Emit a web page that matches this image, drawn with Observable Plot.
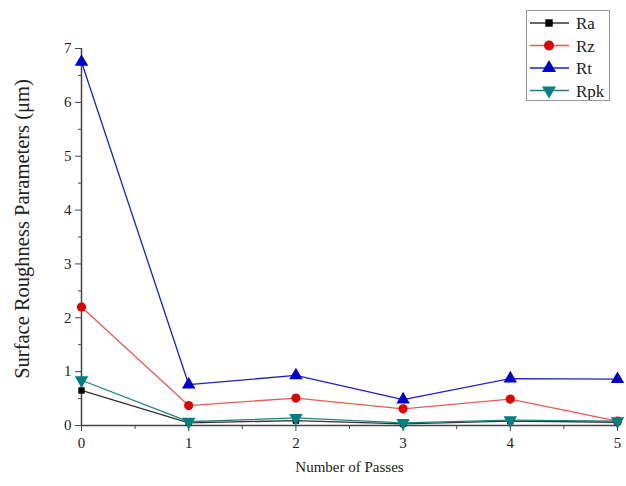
<!DOCTYPE html>
<html><head><meta charset="utf-8">
<script src="https://cdn.jsdelivr.net/npm/d3@7"></script>
<script src="https://cdn.jsdelivr.net/npm/@observablehq/plot@0.6"></script>
<style>
body{margin:0;background:#fff;font-family:"Liberation Serif","DejaVu Serif",serif;}
#wrap{position:relative;width:626px;height:486px;}
#legend{position:absolute;left:526px;top:10px;width:84px;height:91px;border:1px solid #999;background:#fff;box-sizing:border-box;}
</style>
</head><body>
<div id="wrap"><div id="chart"></div><div id="legend"></div></div>
<script>
const passes = [0, 1, 2, 3, 4, 5];
const Ra  = [0.65, 0.05, 0.09, 0.03, 0.08, 0.06];
const Rz  = [2.2, 0.37, 0.51, 0.31, 0.49, 0.08];
const Rt  = [6.75, 0.76, 0.93, 0.48, 0.87, 0.86];
const Rpk = [0.84, 0.07, 0.14, 0.05, 0.10, 0.08];
const seriesNames = ["Ra", "Rz", "Rt", "Rpk"];
const seriesValues = [Ra, Rz, Rt, Rpk];
const lineColors = ["#333333", "#e85a5a", "#2020c8", "#208080"];
const markColors = ["#000000", "#e00000", "#0000cc", "#008080"];
const yTicks = [0, 1, 2, 3, 4, 5, 6, 7];
const yMinor = [0.5, 1.5, 2.5, 3.5, 4.5, 5.5, 6.5];
const xTicks = [0, 1, 2, 3, 4, 5];
const xMinor = [0.5, 1.5, 2.5, 3.5, 4.5];
const serif = "Liberation Serif, serif";

const triDown = {draw(ctx, size) {
  const s = Math.sqrt(size / (Math.sqrt(3) / 4)) ;
  const h = s * Math.sqrt(3) / 2;
  ctx.moveTo(0, h * 2 / 3);
  ctx.lineTo(s / 2, -h / 3);
  ctx.lineTo(-s / 2, -h / 3);
  ctx.closePath();
}};
const triUp = {draw(ctx, size) {
  const s = Math.sqrt(size / (Math.sqrt(3) / 4));
  const h = s * Math.sqrt(3) / 2;
  ctx.moveTo(0, -h * 2 / 3);
  ctx.lineTo(s / 2, h / 3);
  ctx.lineTo(-s / 2, h / 3);
  ctx.closePath();
}};
const symbols = ["square", "circle", triUp, triDown];
const rs = [3.6, 4.6, 5, 5];

const data = seriesNames.flatMap((name, i) => passes.map((p, j) => ({series: name, i, x: p, y: seriesValues[i][j]})));
const fmt = d3.format("d");

const marks = [
  Plot.axisY(yTicks, {tickSize: 6, tickPadding: 4, fontSize: 15, fontFamily: serif, label: null, stroke: "#444", tickFormat: fmt}),
  Plot.axisY(yMinor, {tickSize: 3, tickFormat: () => "", label: null, stroke: "#444"}),
  Plot.axisX(xTicks, {tickSize: 6, tickPadding: 6, fontSize: 15, fontFamily: serif, label: null, stroke: "#444", tickFormat: fmt}),
  Plot.axisX(xMinor, {tickSize: 4, tickFormat: () => "", label: null, stroke: "#444"}),
  Plot.ruleX([0], {stroke: "#444", strokeWidth: 1.5}),
  Plot.ruleY([0], {stroke: "#444", strokeWidth: 1.5}),
];
seriesNames.forEach((name, i) => {
  const d = data.filter(r => r.series === name);
  marks.push(Plot.line(d, {x: "x", y: "y", stroke: lineColors[i], strokeWidth: 1.3}));
});
seriesNames.forEach((name, i) => {
  const d = data.filter(r => r.series === name);
  marks.push(Plot.dot(d, {x: "x", y: "y", symbol: () => symbols[i], fill: markColors[i], stroke: "none", r: rs[i]}));
});

const chart = Plot.plot({
  width: 626, height: 486,
  marginLeft: 81, marginRight: 9, marginTop: 48, marginBottom: 61,
  style: {fontFamily: serif, fontSize: "14px", color: "#222", background: "#fff"},
  x: {domain: [0, 5]},
  y: {domain: [0, 7]},
  symbol: {type: "identity"},
  marks: [
    ...marks,
    Plot.text(["Number of Passes"], {frameAnchor: "bottom", dy: 42, lineAnchor: "middle", fontSize: 15, fontFamily: serif}),
    Plot.text(["Surface Roughness Parameters (μm)"], {frameAnchor: "left", dx: -59, dy: -8, rotate: -90, textAnchor: "middle", lineAnchor: "middle", fontSize: 20.5, fontFamily: serif})
  ]
});
document.getElementById("chart").appendChild(chart);

// legend
const lg = d3.select("#legend").append("svg").attr("width", 82).attr("height", 89);
seriesNames.forEach((name, i) => {
  const y = 12 + i * 22.5;
  const g = lg.append("g");
  g.append("line").attr("x1", 3).attr("x2", 42).attr("y1", y).attr("y2", y).attr("stroke", lineColors[i]).attr("stroke-width", 1.3);
  const sym = i === 0 ? d3.symbolSquare : i === 1 ? d3.symbolCircle : i === 2 ? triUp : triDown;
  const size = i === 0 ? 55 : i === 1 ? 80 : 85;
  g.append("path").attr("d", d3.symbol(sym, size)()).attr("transform", `translate(22,${y})`).attr("fill", markColors[i]);
  g.append("text").attr("x", 49).attr("y", y + 6).attr("font-size", 17).attr("font-family", serif).attr("fill", "#222").text(name);
});
</script>
</body></html>
